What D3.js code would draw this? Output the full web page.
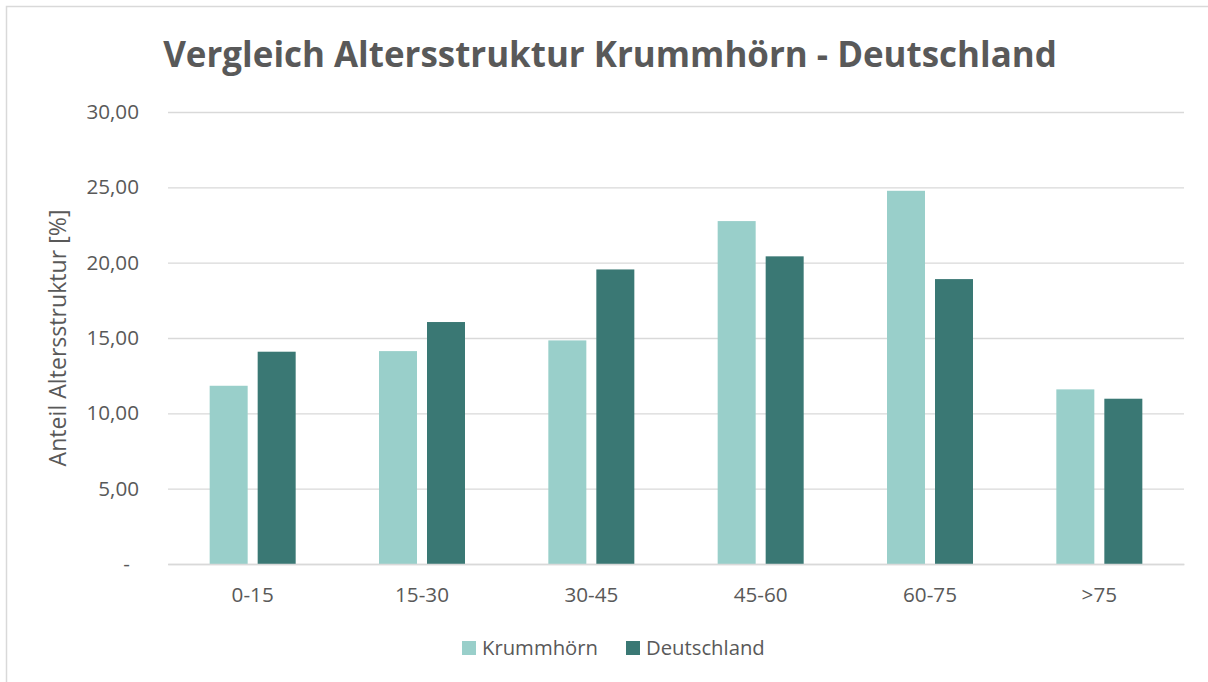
<!DOCTYPE html>
<html>
<head>
<meta charset="utf-8">
<script src="https://cdn.jsdelivr.net/npm/d3@7"></script>
<style>
  html, body { margin: 0; padding: 0; background: #fff; }
  svg { display: block; }
  text { font-family: "Open Sans", "Noto Sans", sans-serif; fill: #595959; }
</style>
</head>
<body>
<svg id="chart" width="1208" height="682"></svg>
<script>
const categories = ["0-15", "15-30", "30-45", "45-60", "60-75", ">75"];
const seriesNames = ["Krummhörn", "Deutschland"];
const krummhoern = [11.83, 14.13, 14.84, 22.76, 24.77, 11.59];
const deutschland = [14.09, 16.06, 19.55, 20.42, 18.91, 10.97];
const seriesColors = ["#99CFCA", "#3A7874"];
const yTicks = [0, 5, 10, 15, 20, 25, 30];
const titleText = "Vergleich Altersstruktur Krummhörn - Deutschland";
const yAxisTitle = "Anteil Altersstruktur [%]";

const seriesValues = [krummhoern, deutschland];
const data = categories.map((c, i) => ({
  cat: c,
  values: seriesNames.map((s, j) => ({ series: s, value: seriesValues[j][i], color: seriesColors[j] }))
}));

const svg = d3.select("#chart");
const W = 1208, H = 682;
const plot = { left: 168, right: 1184, top: 112, bottom: 564 };

// helper: measure text width at a given size
function measure(txt, size, weight) {
  const t = svg.append("text").style("font-size", size + "px").style("font-weight", weight || 400).text(txt);
  const w = t.node().getComputedTextLength();
  t.remove();
  return w;
}
const labelSize = +(20 * 52.6 / measure("30,00", 20)).toFixed(2);
const yTitleSize = +(22 * 257 / measure(yAxisTitle, 22)).toFixed(2);
const legendSize = +(20 * 116 / measure("Krummhörn", 20)).toFixed(2);

svg.append("rect").attr("x", 0).attr("y", 0).attr("width", W).attr("height", H).attr("fill", "#fff");
// outer chart border
svg.append("rect").attr("x", 6.5).attr("y", 6.5).attr("width", W + 20).attr("height", H + 20)
  .attr("fill", "none").attr("stroke", "#d9d9d9").attr("stroke-width", 1.5);

const x0 = d3.scaleBand().domain(categories).range([plot.left, plot.right]).padding(0);
const groupW = 86;
const x1 = d3.scaleBand().domain(seriesNames).range([-groupW / 2, groupW / 2]).paddingInner(10 / 48).paddingOuter(0);
const y = d3.scaleLinear().domain([0, 30]).range([plot.bottom, plot.top]);

// gridlines
const grid = svg.append("g").attr("transform", `translate(${plot.left},0)`)
  .call(d3.axisLeft(y).tickValues(yTicks).tickSize(-(plot.right - plot.left)).tickFormat(""));
grid.select(".domain").remove();
grid.selectAll("line").attr("stroke", "#d9d9d9").attr("stroke-width", 1.3);

// y tick labels
const fmt = v => v === 0 ? "-" : d3.format(".2f")(v).replace(".", ",");
const yAxis = svg.append("g").attr("transform", `translate(${plot.left},0)`)
  .call(d3.axisLeft(y).tickValues(yTicks).tickSize(0).tickPadding(29).tickFormat(fmt));
yAxis.select(".domain").remove();
yAxis.selectAll("text")
  .style("font-size", labelSize + "px").attr("fill", "#595959")
  .attr("dx", d => d === 0 ? -9 : 0);

// bars
const groups = svg.append("g").selectAll("g").data(data).join("g")
  .attr("transform", d => `translate(${x0(d.cat) + x0.bandwidth() / 2},0)`);
groups.selectAll("rect").data(d => d.values).join("rect")
  .attr("x", d => x1(d.series))
  .attr("width", x1.bandwidth())
  .attr("y", d => y(d.value))
  .attr("height", d => y(0) - y(d.value))
  .attr("fill", d => d.color);

// x axis baseline + labels
const xAxis = svg.append("g").attr("transform", `translate(0,${plot.bottom})`)
  .call(d3.axisBottom(x0).tickSize(0).tickPadding(23));
xAxis.select(".domain").attr("stroke", "#d9d9d9").attr("stroke-width", 1.3);
xAxis.selectAll("text").style("font-size", labelSize + "px").attr("fill", "#595959");

// y axis title
svg.append("text")
  .attr("transform", `translate(66,${(plot.top + plot.bottom) / 2}) rotate(-90)`)
  .attr("text-anchor", "middle")
  .style("font-size", yTitleSize + "px")
  .text(yAxisTitle);

// title
const title = svg.append("text")
  .attr("x", 610).attr("y", 67)
  .attr("text-anchor", "middle")
  .style("font-size", "38px").style("font-weight", "700")
  .text(titleText);
const tw = title.node().getComputedTextLength();
title.style("font-size", (38 * 894 / tw).toFixed(2) + "px");

// legend
const legendItems = [
  { name: seriesNames[0], color: seriesColors[0], sx: 462, tx: 482 },
  { name: seriesNames[1], color: seriesColors[1], sx: 626, tx: 646 }
];
const lg = svg.append("g");
legendItems.forEach(it => {
  lg.append("rect").attr("x", it.sx).attr("y", 641).attr("width", 14).attr("height", 14).attr("fill", it.color);
  lg.append("text").attr("x", it.tx).attr("y", 655).style("font-size", legendSize + "px").text(it.name);
});
</script>
</body>
</html>
